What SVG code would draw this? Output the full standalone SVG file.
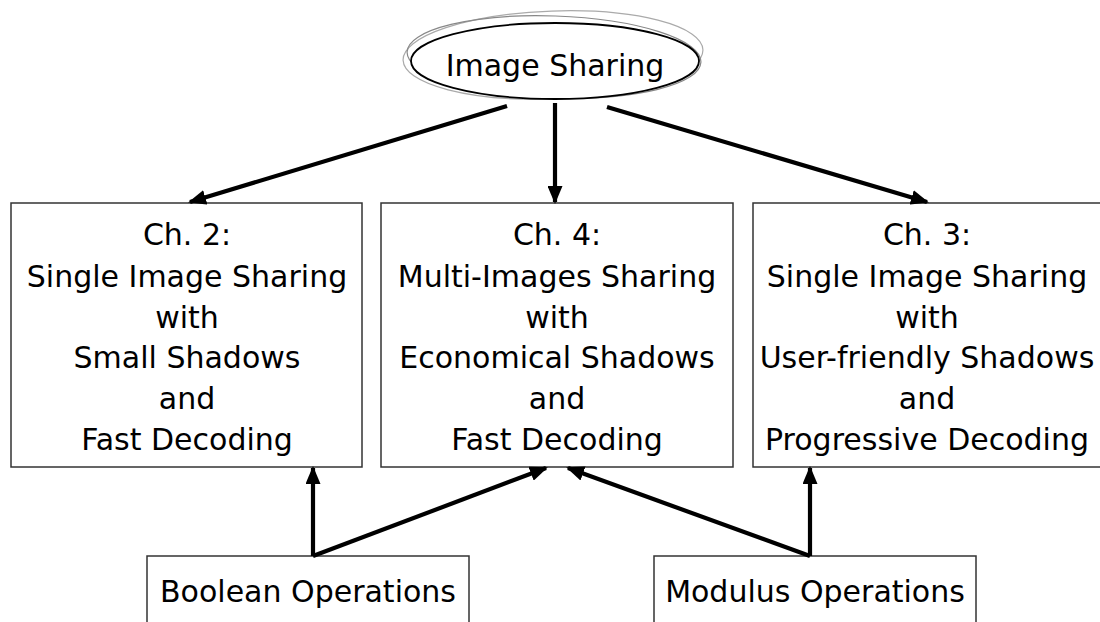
<svg xmlns="http://www.w3.org/2000/svg" width="1100" height="622" viewBox="0 0 1100 622">
  <style>
    .box { fill: #ffffff; stroke: #333333; stroke-width: 1.5; }
    .label { font-family: "DejaVu Sans", Verdana, sans-serif; font-size: 30px; fill: #000000; text-anchor: middle; }
    .edge { stroke: #000000; stroke-width: 4.2; fill: none; marker-end: url(#head); }
  </style>
  <defs>
    <marker id="head" viewBox="0 0 18 15" refX="16" refY="7.5" markerWidth="18" markerHeight="15" orient="auto" markerUnits="userSpaceOnUse">
      <path d="M0,0 L18,7.5 L0,15 Z" fill="#000000"/>
    </marker>
  </defs>
  <rect width="1100" height="622" fill="#ffffff"/>

  <!-- root: hand-drawn style ellipse -->
  <g id="image-sharing">
    <ellipse cx="553" cy="55" rx="150" ry="44" fill="none" stroke="#aaaaaa" stroke-width="1.2" transform="rotate(-2 553 55)"/>
    <ellipse cx="554" cy="57" rx="147" ry="41" fill="none" stroke="#888888" stroke-width="1.2" transform="rotate(2 554 57)"/>
    <ellipse cx="555" cy="61" rx="144" ry="38" fill="#ffffff" stroke="#000000" stroke-width="1.8"/>
    <text class="label" x="555" y="76">Image Sharing</text>
  </g>

  <g id="ch2">
    <rect class="box" x="11" y="203" width="351" height="264"/>
    <text class="label" x="187" y="245">Ch. 2:</text>
    <text class="label" x="187" y="287">Single Image Sharing</text>
    <text class="label" x="187" y="328">with</text>
    <text class="label" x="187" y="368">Small Shadows</text>
    <text class="label" x="187" y="409">and</text>
    <text class="label" x="187" y="450">Fast Decoding</text>
  </g>

  <g id="ch4">
    <rect class="box" x="381" y="203" width="352" height="264"/>
    <text class="label" x="557" y="245">Ch. 4:</text>
    <text class="label" x="557" y="287">Multi-Images Sharing</text>
    <text class="label" x="557" y="328">with</text>
    <text class="label" x="557" y="368">Economical Shadows</text>
    <text class="label" x="557" y="409">and</text>
    <text class="label" x="557" y="450">Fast Decoding</text>
  </g>

  <g id="ch3">
    <rect class="box" x="753" y="203" width="352" height="264"/>
    <text class="label" x="927" y="245">Ch. 3:</text>
    <text class="label" x="927" y="287">Single Image Sharing</text>
    <text class="label" x="927" y="328">with</text>
    <text class="label" x="927" y="368">User-friendly Shadows</text>
    <text class="label" x="927" y="409">and</text>
    <text class="label" x="927" y="450">Progressive Decoding</text>
  </g>

  <g id="boolean-ops">
    <rect class="box" x="147" y="556" width="322" height="80"/>
    <text class="label" x="308" y="602">Boolean Operations</text>
  </g>

  <g id="modulus-ops">
    <rect class="box" x="654" y="556" width="322" height="80"/>
    <text class="label" x="815" y="602">Modulus Operations</text>
  </g>

  <g id="connectors">
    <line class="edge" x1="507" y1="106" x2="190" y2="202"/>
    <line class="edge" x1="555" y1="103" x2="555" y2="202"/>
    <line class="edge" x1="607" y1="107" x2="927" y2="202"/>
    <line class="edge" x1="313" y1="556" x2="313" y2="468"/>
    <line class="edge" x1="313" y1="556" x2="546" y2="468"/>
    <line class="edge" x1="810" y1="556" x2="810" y2="468"/>
    <line class="edge" x1="810" y1="556" x2="568" y2="468"/>
  </g>
</svg>
